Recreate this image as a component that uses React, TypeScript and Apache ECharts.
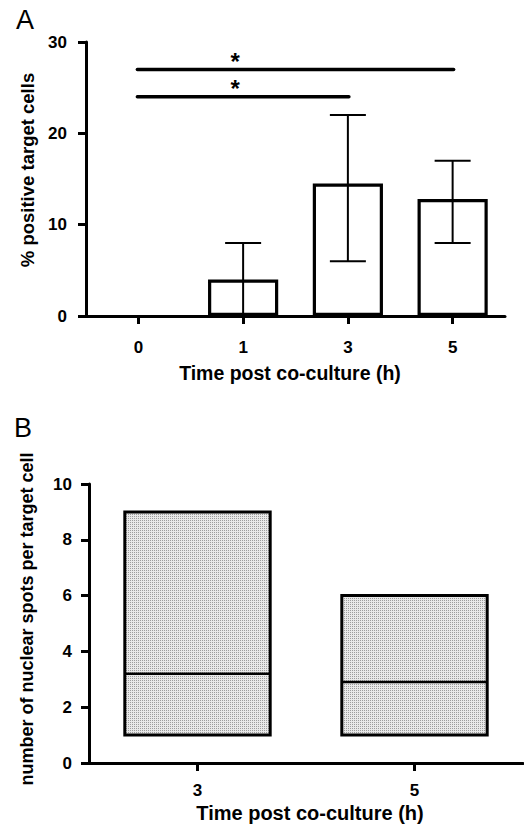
import React, { useEffect, useRef } from "react";
import * as echarts from "echarts";

// ---------- Panel A data ----------
const categoriesA = ["0", "1", "3", "5"];
const meansA = [0, 4, 14.5, 12.8];
const errLowA = [0, 0, 6, 8];
const errHighA = [0, 8, 22, 17];
const sigFromA = [0, 0];
const sigToA = [3, 2];
const sigYA = [27, 24];
const sigLabelA = ["*", "*"];
const yTicksA = { min: 0, max: 30, interval: 10 };

// ---------- Panel B data ----------
const categoriesB = ["3", "5"];
const boxLowB = [1, 1];
const boxHighB = [9, 6];
const medianB = [3.2, 2.9];
const yTicksB = { min: 0, max: 10, interval: 2 };

const FONT = "'Liberation Sans', Arial, Helvetica, sans-serif";

function makePattern(): HTMLCanvasElement {
  const c = document.createElement("canvas");
  c.width = 2;
  c.height = 2;
  const ctx = c.getContext("2d")!;
  ctx.fillStyle = "#e8e8e8";
  ctx.fillRect(0, 0, 2, 2);
  ctx.fillStyle = "#9c9c9c";
  ctx.fillRect(0, 0, 1, 1);
  return c;
}

const axisCommon = {
  axisLine: { show: true, lineStyle: { color: "#000", width: 3 } },
  axisTick: { show: true, length: 8, lineStyle: { color: "#000", width: 3 } },
  splitLine: { show: false },
};

const tickLabel = {
  color: "#000",
  fontFamily: FONT,
  fontWeight: "bold" as const,
  fontSize: 17,
};

export default function App() {
  const ref = useRef<HTMLDivElement>(null);
  useEffect(() => {
    if (!ref.current) return;
    const chart = echarts.init(ref.current, null, { renderer: "svg" });
    const pattern = makePattern();

    const option: any = {
      animation: false,
      backgroundColor: "#fff",
      grid: [
        { left: 86, top: 42, width: 419, height: 274 },
        { left: 89, top: 484, width: 434, height: 279 },
      ],
      xAxis: [
        {
          type: "category",
          gridIndex: 0,
          data: categoriesA,
          ...axisCommon,
          axisTick: { ...axisCommon.axisTick, alignWithLabel: true },
          axisLabel: { ...tickLabel, margin: 23 },
          z: 5,
        },
        {
          type: "category",
          gridIndex: 1,
          data: categoriesB,
          ...axisCommon,
          axisTick: { ...axisCommon.axisTick, alignWithLabel: true },
          axisLabel: { ...tickLabel, margin: 19 },
        },
      ],
      yAxis: [
        {
          type: "value",
          gridIndex: 0,
          ...yTicksA,
          ...axisCommon,
          axisLabel: { ...tickLabel, margin: 19 },
        },
        {
          type: "value",
          gridIndex: 1,
          ...yTicksB,
          ...axisCommon,
          axisLabel: { ...tickLabel, margin: 17 },
        },
      ],
      series: [
        {
          type: "bar",
          xAxisIndex: 0,
          yAxisIndex: 0,
          data: meansA.map((v) => (v === 0 ? { value: v, itemStyle: { borderWidth: 0 } } : v)),
          barWidth: "67%",
          itemStyle: { color: "#fff", borderColor: "#000", borderWidth: 3.2 },
          z: 2,
        },
        {
          type: "custom",
          xAxisIndex: 0,
          yAxisIndex: 0,
          z: 3,
          data: categoriesA.map((_, i) => [i, errLowA[i], errHighA[i]]),
          encode: { x: 0, y: [1, 2] },
          renderItem: (params: any, api: any) => {
            const i = api.value(0);
            const lo = api.value(1);
            const hi = api.value(2);
            if (lo === hi) return { type: "group", children: [] };
            const pLo = api.coord([i, lo]);
            const pHi = api.coord([i, hi]);
            const hw = 18;
            const st = { stroke: "#000", lineWidth: 2 };
            return {
              type: "group",
              children: [
                { type: "line", shape: { x1: pLo[0], y1: pLo[1], x2: pHi[0], y2: pHi[1] }, style: st },
                { type: "line", shape: { x1: pLo[0] - hw, y1: pLo[1], x2: pLo[0] + hw, y2: pLo[1] }, style: st },
                { type: "line", shape: { x1: pHi[0] - hw, y1: pHi[1], x2: pHi[0] + hw, y2: pHi[1] }, style: st },
              ],
            };
          },
        },
        {
          type: "custom",
          xAxisIndex: 0,
          yAxisIndex: 0,
          z: 4,
          data: sigFromA.map((f, i) => [f, sigToA[i], sigYA[i], i]),
          encode: { x: [0, 1], y: 2 },
          renderItem: (params: any, api: any) => {
            const f = api.value(0);
            const t = api.value(1);
            const y = api.value(2);
            const idx = api.value(3);
            const p1 = api.coord([f, y]);
            const p2 = api.coord([t, y]);
            const ps = api.coord([1, y]);
            return {
              type: "group",
              children: [
                {
                  type: "line",
                  shape: { x1: p1[0] - 1, y1: p1[1], x2: p2[0] + 1, y2: p2[1] },
                  style: { stroke: "#000", lineWidth: 3.5, lineCap: "round" },
                },
                {
                  type: "text",
                  x: ps[0] - 8,
                  y: p1[1] - 8,
                  style: {
                    text: sigLabelA[idx],
                    font: `bold 24px ${FONT}`,
                    fill: "#000",
                    align: "center",
                    verticalAlign: "middle",
                  },
                },
              ],
            };
          },
        },
        {
          type: "custom",
          xAxisIndex: 1,
          yAxisIndex: 1,
          z: 3,
          data: categoriesB.map((_, i) => [i, boxLowB[i], boxHighB[i], medianB[i]]),
          encode: { x: 0, y: [1, 2, 3] },
          renderItem: (params: any, api: any) => {
            const i = api.value(0);
            const lo = api.value(1);
            const hi = api.value(2);
            const md = api.value(3);
            const band = api.size([1, 0])[0];
            const w = band * 0.67;
            const pLo = api.coord([i, lo]);
            const pHi = api.coord([i, hi]);
            const pMd = api.coord([i, md]);
            const x0 = pLo[0] - w / 2;
            return {
              type: "group",
              children: [
                {
                  type: "rect",
                  shape: { x: x0, y: pHi[1], width: w, height: pLo[1] - pHi[1] },
                  style: {
                    fill: { image: pattern, repeat: "repeat", imageWidth: 2, imageHeight: 2 },
                    stroke: "#000",
                    lineWidth: 3,
                  },
                },
                {
                  type: "line",
                  shape: { x1: x0, y1: pMd[1], x2: x0 + w, y2: pMd[1] },
                  style: { stroke: "#000", lineWidth: 2.5 },
                },
              ],
            };
          },
        },
      ],
      graphic: [
        {
          type: "text",
          x: 16,
          y: 20,
          style: { text: "A", font: `27px ${FONT}`, fill: "#000", align: "left", verticalAlign: "middle" },
        },
        {
          type: "text",
          x: 14,
          y: 428,
          style: { text: "B", font: `27px ${FONT}`, fill: "#000", align: "left", verticalAlign: "middle" },
        },
        {
          type: "text",
          x: 27,
          y: 170,
          rotation: Math.PI / 2,
          style: {
            text: "% positive target cells",
            font: `bold 18.5px ${FONT}`,
            fill: "#000",
            align: "center",
            verticalAlign: "middle",
          },
        },
        {
          type: "text",
          x: 290,
          y: 373,
          style: {
            text: "Time post co-culture (h)",
            font: `bold 19.5px ${FONT}`,
            fill: "#000",
            align: "center",
            verticalAlign: "middle",
          },
        },
        {
          type: "text",
          x: 27,
          y: 619,
          rotation: Math.PI / 2,
          style: {
            text: "number of nuclear spots per target cell",
            font: `bold 18px ${FONT}`,
            fill: "#000",
            align: "center",
            verticalAlign: "middle",
          },
        },
        {
          type: "text",
          x: 310,
          y: 813,
          style: {
            text: "Time post co-culture (h)",
            font: `bold 20px ${FONT}`,
            fill: "#000",
            align: "center",
            verticalAlign: "middle",
          },
        },
      ],
    };

    chart.setOption(option);
    return () => chart.dispose();
  }, []);

  return (
    <div
      ref={ref}
      style={{ position: "fixed", left: 0, top: 0, width: 524, height: 824 }}
    />
  );
}
